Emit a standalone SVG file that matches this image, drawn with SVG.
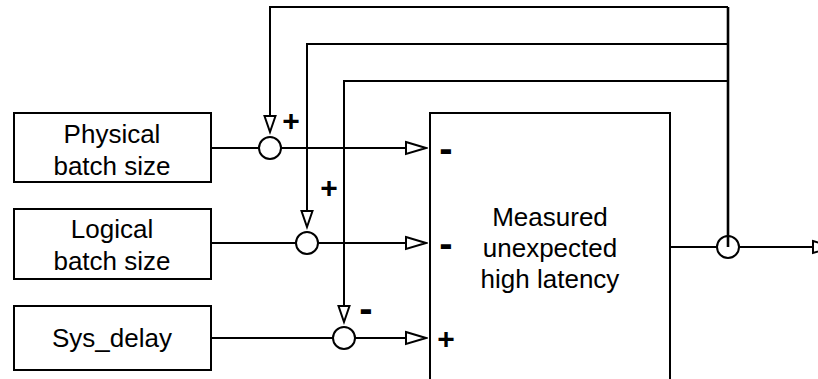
<svg xmlns="http://www.w3.org/2000/svg" width="818" height="379" viewBox="0 0 818 379">
<defs>
<style>
.box{fill:#fff;stroke:#000;stroke-width:2}
.ln{fill:none;stroke:#000;stroke-width:2}
.fb{fill:none;stroke:#000;stroke-width:2}
.sum{fill:#fff;stroke:#000;stroke-width:2}
.lbl{font-family:"Liberation Sans",Arial,Helvetica,sans-serif;font-size:26px;fill:#000;text-anchor:middle}
.sign{font-family:"Liberation Sans",Arial,Helvetica,sans-serif;font-weight:bold;font-size:30px;fill:#000;text-anchor:middle}
.minus{font-family:"Liberation Sans",Arial,Helvetica,sans-serif;font-weight:bold;font-size:40px;fill:#000;text-anchor:middle}
</style>
<marker id="ah" markerUnits="userSpaceOnUse" markerWidth="24" markerHeight="16" refX="20" refY="6" orient="auto" viewBox="-2 -2 24 16">
<path d="M0,0 L20,6 L0,12 Z" fill="#fff" stroke="#000" stroke-width="2"/>
</marker>
<marker id="av" markerUnits="userSpaceOnUse" markerWidth="22" markerHeight="16" refX="16" refY="5.5" orient="auto" viewBox="-2 -2 22 16">
<path d="M0,0 L16,5.5 L0,11 Z" fill="#fff" stroke="#000" stroke-width="2"/>
</marker>
</defs>

<g id="connectors">
<path class="ln" d="M211,148 H259"/>
<path class="ln" d="M281,148 H426" marker-end="url(#ah)"/>
<path class="ln" d="M211,243 H296"/>
<path class="ln" d="M318,243 H426" marker-end="url(#ah)"/>
<path class="ln" d="M211,338 H333"/>
<path class="ln" d="M355,338 H426" marker-end="url(#ah)"/>
<path class="ln" d="M670,247 H717"/>
<path class="ln" d="M739,247 H833" marker-end="url(#ah)"/>
<path class="fb" d="M728,247 V7" style="stroke-width:2.6"/>
<path class="fb" d="M728,7 H270 V132" marker-end="url(#av)"/>
<path class="fb" d="M728,44 H307 V227" marker-end="url(#av)"/>
<path class="fb" d="M728,81 H344 V322" marker-end="url(#av)"/>
</g>

<g id="physical">
<rect class="box" x="14" y="113" width="197" height="69"/>
<text class="lbl" x="112" y="143">Physical</text>
<text class="lbl" x="112" y="175">batch size</text>
</g>
<g id="logical">
<rect class="box" x="14" y="209" width="197" height="70"/>
<text class="lbl" x="112" y="238">Logical</text>
<text class="lbl" x="112" y="270">batch size</text>
</g>
<g id="sysdelay">
<rect class="box" x="14" y="306" width="197" height="64"/>
<text class="lbl" x="112" y="347">Sys_delay</text>
</g>
<g id="latency">
<rect class="box" x="430" y="113" width="240" height="280"/>
<text class="lbl" x="550" y="226">Measured</text>
<text class="lbl" x="550" y="257">unexpected</text>
<text class="lbl" x="550" y="288">high latency</text>
<text class="minus" x="446" y="162">-</text>
<text class="minus" x="446" y="257">-</text>
<text class="sign" x="446" y="349">+</text>
</g>
<g id="sum-physical">
<circle class="sum" cx="270" cy="148" r="11"/>
<text class="sign" x="291" y="131">+</text>
</g>
<g id="sum-logical">
<circle class="sum" cx="307" cy="243" r="11"/>
<text class="sign" x="329" y="198">+</text>
</g>
<g id="sum-sys">
<circle class="sum" cx="344" cy="338" r="11"/>
<text class="minus" x="366" y="322">-</text>
</g>
<g id="sum-out">
<circle class="sum" cx="728" cy="247" r="11"/>
<path class="fb" d="M728,236 V247" style="stroke-width:2.6"/>
</g>
</svg>
